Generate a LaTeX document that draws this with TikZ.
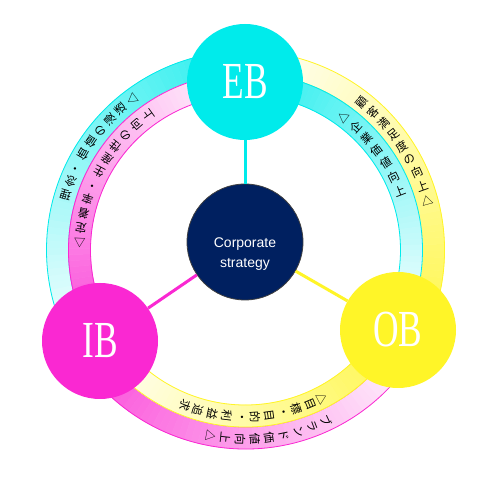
\documentclass[tikz,border=0pt]{standalone}
\usepackage{fontspec}
\setmainfont{Liberation Serif}
\newfontfamily\jpfont{Noto Sans CJK JP}
\newfontfamily\coresans{Liberation Sans}
\definecolor{cyanC}{RGB}{0,235,235}
\definecolor{magC}{RGB}{250,40,210}
\definecolor{yelC}{RGB}{255,245,40}
\definecolor{navyC}{RGB}{0,32,96}
\tikzset{
  glyph/.style={inner sep=0pt, font=\jpfont\fontsize{11.5}{11.5}\selectfont},
  ball/.style={circle, minimum size=116pt, inner sep=0pt},
  balllabel/.style={text=white, inner sep=0pt, font=\fontsize{52}{52}\selectfont},
  link/.style={line width=3pt},
  rim/.style={line width=0.8pt},
}
% #1 inner radius, #2 outer radius, #3 strong angle, #4 pale angle, #5 colour
\newcommand{\bandgrad}[5]{%
  \foreach \k in {0,...,59}{%
    \pgfmathsetmacro{\aA}{#3+(#4-#3)*\k/60}%
    \pgfmathsetmacro{\aB}{#3+(#4-#3)*(\k+1)/60}%
    \pgfmathtruncatemacro{\pp}{85-83*\k/59}%
    \fill[#5!\pp!white, draw=#5!\pp!white, line width=0.5pt]
      (\aA:#2pt) arc[start angle=\aA, end angle=\aB, radius=#2pt]
      -- (\aB:#1pt) arc[start angle=\aB, end angle=\aA, radius=#1pt] -- cycle;
  }%
  \draw[rim, #5] (#3:#2pt) arc[start angle=#3, end angle=#4, radius=#2pt];
  \draw[rim, #5] (#3:#1pt) arc[start angle=#3, end angle=#4, radius=#1pt];
}
% #1 radius, #2 start angle, #3 step (clockwise), #4 glyph list
\newcommand{\arctext}[4]{%
  \foreach \ch [count=\i from 0] in {#4}{%
    \pgfmathsetmacro{\ang}{#2-#3*\i}%
    \node[glyph, rotate=\ang] at (\ang:#1pt) {\ch};
  }%
}
\begin{document}
\begin{tikzpicture}[x=1pt,y=1pt]
\useasboundingbox (0,0) rectangle (490,490);
\fill[white] (0,0) rectangle (490,490);
\begin{scope}[shift={(245.5,240)}]
  % outer bands
  \bandgrad{177}{199}{90}{212}{cyanC}
  \bandgrad{177}{199}{-27.7}{90}{yelC}
  \bandgrad{177}{199}{212}{332.3}{magC}
  % inner bands
  \bandgrad{155}{177}{212}{90}{magC}
  \bandgrad{155}{177}{90}{-27.7}{cyanC}
  \bandgrad{155}{177}{332.3}{212}{yelC}
  % texts
  \arctext{188}{51.6}{4.54}{顧,客,満,足,度,の,向,上,△}
  \arctext{165}{53.6}{5.45}{△,企,業,価,値,向,上}
  \arctext{189}{-64.7}{4.49}{ブ,ラ,ン,ド,価,値,向,上,△}
  \arctext{167}{-62.4}{4.88}{△,目,標,・,目,的,・,利,益,追,求}
  \arctext{188}{163}{4.49}{理,念,・,価,値,の,浸,透,△}
  \arctext{166}{177.7}{5.18}{△,定,着,率,・,生,産,性,の,向,上}
\end{scope}
\node[ball, fill=navyC, draw=black!75, line width=0.8pt] (core) at (245,248) {};
\node[ball, fill=cyanC] (eb) at (245,408) {};
\node[ball, fill=magC] (ib) at (100,149) {};
\node[ball, fill=yelC] (ob) at (398,160) {};
\draw[link, cyanC] (core) -- (eb);
\draw[link, magC] (core) -- (ib);
\draw[link, yelC] (core) -- (ob);
\node[text=white, align=center, font=\coresans\fontsize{14}{20}\selectfont] (coretext) at (245,236) {Corporate\\strategy};
\node[balllabel] (ebl) at (eb) {\scalebox{0.68}[1]{EB}};
\node[balllabel] (ibl) at (ib) {\scalebox{0.68}[1]{IB}};
\node[balllabel] (obl) at (ob) {\scalebox{0.68}[1]{OB}};
\end{tikzpicture}
\end{document}
